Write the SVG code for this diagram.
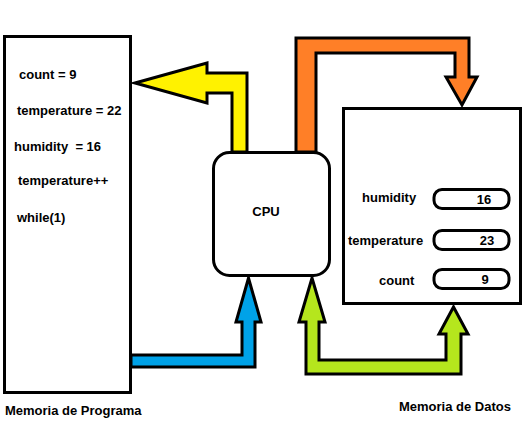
<svg xmlns="http://www.w3.org/2000/svg" width="527" height="427" viewBox="0 0 527 427">
<style>
.t{font-family:"Liberation Sans",Arial,sans-serif;font-weight:bold;font-size:13px;fill:#000}
.box{fill:#fff;stroke:#000;stroke-width:3}
.arr{stroke:#000;stroke-width:3;stroke-linejoin:miter}
</style>
<rect width="527" height="427" fill="#fff"/>
<g id="connectors">
<polygon class="arr" fill="#FFF200" points="135,83 207,63 207,73 247,73 247,152 232,152 232,93 207,93 207,103"/>
<polygon class="arr" fill="#FF7F27" points="296,152 296,38 469,38 469,77 477,77 462,105 446,77 455,77 455,53 316,53 316,152"/>
<polygon class="arr" fill="#00A2E8" points="131,355 242,355 242,322 236,322 248.5,278 261,322 255,322 255,367 131,367"/>
<polygon class="arr" fill="#B5E61D" points="312,278 325,322 319,322 319,360 446,360 446,334 439,334 453.5,307 468,334 461,334 461,374 306,374 306,322 299,322"/>
</g>
<g id="program-memory">
<rect class="box" x="4.5" y="36.5" width="126" height="356"/>
<text class="t" x="19" y="79">count = 9</text>
<text class="t" x="17" y="115">temperature = 22</text>
<text class="t" x="14" y="151">humidity &#160;= 16</text>
<text class="t" x="18" y="185">temperature++</text>
<text class="t" x="17" y="222">while(1)</text>
</g>
<g id="cpu">
<rect class="box" x="213.5" y="152.5" width="116" height="123" rx="16"/>
<text class="t" x="266" y="216" text-anchor="middle">CPU</text>
</g>
<g id="data-memory">
<rect class="box" x="343.5" y="108.5" width="177" height="195"/>
<text class="t" x="362" y="202">humidity</text>
<rect class="box" x="434" y="189.5" width="75" height="19" rx="8"/>
<text class="t" x="484" y="204" text-anchor="middle">16</text>
<text class="t" x="348" y="245">temperature</text>
<rect class="box" x="434" y="230.5" width="75" height="19" rx="8"/>
<text class="t" x="487" y="245" text-anchor="middle">23</text>
<text class="t" x="379" y="285">count</text>
<rect class="box" x="434" y="269.5" width="75" height="19" rx="8"/>
<text class="t" x="485" y="284" text-anchor="middle">9</text>
</g>
<g id="labels">
<text class="t" x="5" y="415">Memoria de Programa</text>
<text class="t" x="399" y="411">Memoria de Datos</text>
</g>
</svg>
